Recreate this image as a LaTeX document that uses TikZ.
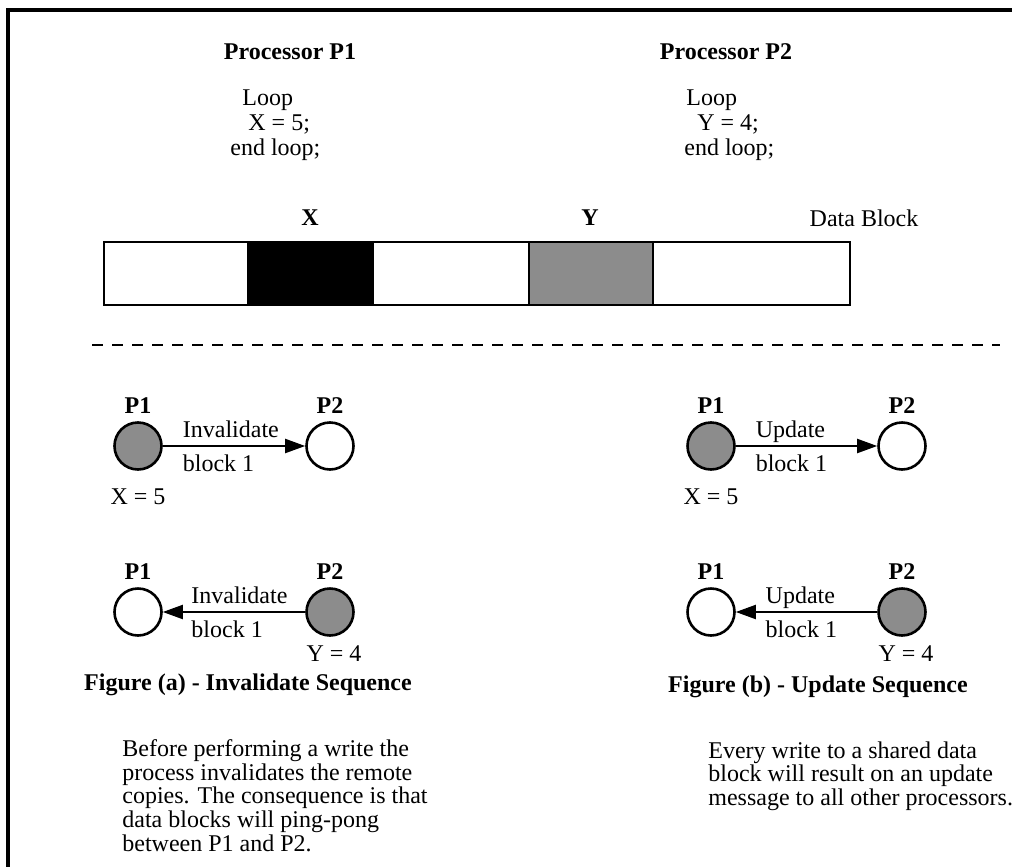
\documentclass[tikz,border=0pt]{standalone}
\usepackage{fontspec}
\setmainfont{Liberation Serif}
\usetikzlibrary{positioning,arrows.meta}
\begin{document}
\begin{tikzpicture}[
  x=0.5pt, y=-0.5pt,
  every node/.style={inner sep=0pt, font=\fontsize{12}{12.5}\selectfont},
  head/.style={font=\fontsize{12}{12.5}\selectfont\bfseries},
  code/.style={align=left, anchor=west},
  proc/.style={circle, draw, line width=1.3pt, minimum size=23.5pt},
  busy/.style={fill=black!45},
  msg/.style={-{Triangle[length=10pt,width=7pt]}, line width=1pt},
  lbl/.style={inner xsep=1pt, inner ysep=4pt, text height=8pt, text depth=0pt},
  note/.style={align=left, anchor=north west, font=\fontsize{12}{11.9}\selectfont},
  blk/.style={line width=1.3pt}
]
\useasboundingbox (0,0) rectangle (1012,867);
\draw[line width=1.6pt] (8,867) -- (8,10) -- (1012,10);

\node[head] (hdrA) at (290,52) {Processor P1};
\node[head] (hdrB) at (726,52) {Processor P2};
\node[code] (codeA) at (230,125) {\hspace*{6pt}Loop\\\hspace*{9pt}X = 5;\\end loop;};
\node[code] (codeB) at (684,125) {\hspace*{1pt}Loop\\\hspace*{6.5pt}Y = 4;\\end loop;};

% data block
\fill[black] (248,242) rectangle (373,305);
\fill[black!45] (529,242) rectangle (653,305);
\draw[blk] (104,242) rectangle (850,305);
\foreach \x in {248,373,529,653}
  \draw[blk] (\x,242) -- (\x,305);
\node[head] (lblX) at (310,218) {X};
\node[head] (lblY) at (590,218) {Y};
\node (lblData) at (864,218) {Data Block};

\draw[line width=1pt, dash pattern=on 5.5pt off 4.5pt] (92,345) -- (1000,345);

% invalidate sequence
\node[proc, busy] (a1) at (138,446) {};
\node[proc] (a2) at (330,446) {};
\node[proc] (a3) at (138,612) {};
\node[proc, busy] (a4) at (330,612) {};
\node[head, above=3.5pt of a1] (a1p) {P1};
\node[head, above=3.5pt of a2] (a2p) {P2};
\node[head, above=3.5pt of a3] (a3p) {P1};
\node[head, above=3.5pt of a4] (a4p) {P2};
\node[below=9pt of a1] (a1v) {X = 5};
\node[below=4pt of a4, xshift=2pt] (a4v) {Y = 4};
\draw[msg] (a1) -- node[lbl, pos=0.12, anchor=south west] {Invalidate}
  node[lbl, pos=0.12, anchor=north west] {block 1} (a2);
\draw[msg] (a4) -- node[lbl, pos=0.82, anchor=south west] {Invalidate}
  node[lbl, pos=0.82, anchor=north west] {block 1} (a3);
\node[head] (capA) at (248,685) {Figure (a) - Invalidate Sequence};

% update sequence
\node[proc, busy] (b1) at (711,446) {};
\node[proc] (b2) at (902,446) {};
\node[proc] (b3) at (711,612) {};
\node[proc, busy] (b4) at (902,612) {};
\node[head, above=3.5pt of b1] (b1p) {P1};
\node[head, above=3.5pt of b2] (b2p) {P2};
\node[head, above=3.5pt of b3] (b3p) {P1};
\node[head, above=3.5pt of b4] (b4p) {P2};
\node[below=9pt of b1] (b1v) {X = 5};
\node[below=4pt of b4, xshift=2pt] (b4v) {Y = 4};
\draw[msg] (b1) -- node[lbl, pos=0.12, anchor=south west] {Update}
  node[lbl, pos=0.12, anchor=north west] {block 1} (b2);
\draw[msg] (b4) -- node[lbl, pos=0.81, anchor=south west] {Update}
  node[lbl, pos=0.81, anchor=north west] {block 1} (b3);
\node[head] (capB) at (818,687) {Figure (b) - Update Sequence};

\node[note] (noteA) at (122,739) {Before performing a write the\\process invalidates the remote\\copies. The consequence is that\\data blocks will ping-pong\\between P1 and P2.};
\node[note] (noteB) at (708,741) {Every write to a shared data\\block will result on an update\\message to all other processors.};
\end{tikzpicture}
\end{document}
